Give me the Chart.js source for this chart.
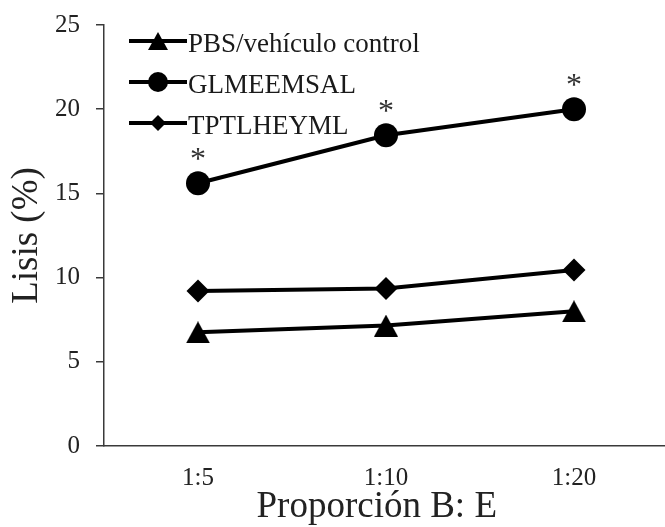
<!DOCTYPE html>
<html>
<head>
<meta charset="utf-8">
<script src="https://cdn.jsdelivr.net/npm/chart.js@4"></script>
<style>
  html, body { margin:0; padding:0; background:#fff; overflow:hidden; }
  #wrap { width:665px; height:527px; overflow:hidden; }
</style>
</head>
<body>
<div id="wrap"><canvas id="chart" width="680" height="527"></canvas></div>
<script>
// values
const categories = ['1:5', '1:10', '1:20'];
const seriesNames = ['PBS/vehículo control', 'GLMEEMSAL', 'TPTLHEYML'];
const pbsValues = [6.75, 7.15, 8.0];
const glmValues = [15.6, 18.45, 20.0];
const tptValues = [9.2, 9.35, 10.45];
const glmMarks = ['*', '*', '*'];
const yTicks = [0, 5, 10, 15, 20, 25];

const FONT = 'Liberation Serif';

// triangle centred on its bounding box (like the original markers)
function triangleCanvas(w, h){
  const cv = document.createElement('canvas');
  cv.width = w; cv.height = h;
  const g = cv.getContext('2d');
  g.fillStyle = '#000';
  g.beginPath();
  g.moveTo(w/2, 0);
  g.lineTo(w, h);
  g.lineTo(0, h);
  g.closePath();
  g.fill();
  return cv;
}
const bigTri = triangleCanvas(24, 22);
const smallTri = triangleCanvas(20, 18);

// legend drawn inside the plot, line + marker + text
const legendPlugin = {
  id: 'lineLegend',
  afterDraw(chart){
    const ctx = chart.ctx;
    const markers = [
      {img: smallTri},
      {style: 'circle', radius: 10},
      {style: 'rectRot', radius: 8}
    ];
    ctx.save();
    chart.data.datasets.forEach((ds, i) => {
      const y = 41 + i*41;
      ctx.strokeStyle = '#000';
      ctx.lineWidth = 4;
      ctx.beginPath();
      ctx.moveTo(129, y);
      ctx.lineTo(187, y);
      ctx.stroke();
      const m = markers[i];
      if(m.img){
        ctx.drawImage(m.img, 158 - m.img.width/2, y - m.img.height/2);
      } else {
        ctx.fillStyle = '#000';
        Chart.helpers.drawPoint(ctx, {pointStyle: m.style, radius: m.radius, rotation: 0, borderWidth: 0}, 158, y);
      }
      ctx.fillStyle = '#1a1a1a';
      ctx.font = '27px "' + FONT + '"';
      ctx.textAlign = 'left';
      ctx.textBaseline = 'middle';
      ctx.fillText(ds.label, 188, y + 4);
    });
    ctx.restore();
  }
};

// significance asterisks above GLMEEMSAL points
const starPlugin = {
  id: 'stars',
  afterDatasetsDraw(chart){
    const ctx = chart.ctx;
    const meta = chart.getDatasetMeta(1);
    ctx.save();
    ctx.fillStyle = '#333';
    ctx.font = '32px "' + FONT + '"';
    ctx.textAlign = 'center';
    ctx.textBaseline = 'alphabetic';
    meta.data.forEach((pt, i) => {
      if(glmMarks[i]) ctx.fillText(glmMarks[i], pt.x, pt.y - 14);
    });
    ctx.restore();
  }
};

const ctx = document.getElementById('chart').getContext('2d');
new Chart(ctx, {
  type: 'line',
  data: {
    labels: categories,
    datasets: [
      {label: seriesNames[0], data: pbsValues, pointStyle: bigTri, pointRadius: 12},
      {label: seriesNames[1], data: glmValues, pointStyle: 'circle', pointRadius: 12},
      {label: seriesNames[2], data: tptValues, pointStyle: 'rectRot', pointRadius: 11.5}
    ]
  },
  options: {
    responsive: false,
    animation: false,
    layout: {padding: {top: 25, right: 6, left: 0, bottom: 0}},
    plugins: {legend: {display: false}, tooltip: {enabled: false}},
    elements: {
      line: {borderColor: '#000', borderWidth: 4, tension: 0},
      point: {backgroundColor: '#000', borderColor: '#000', borderWidth: 0}
    },
    scales: {
      x: {
        offset: true,
        grid: {display: false},
        border: {display: true, color: '#3a3a3a', width: 1.5},
        ticks: {color: '#222', font: {family: FONT, size: 25}, padding: 9},
        title: {display: true, text: 'Proporción B: E\u00a0\u00a0', color: '#222',
                font: {family: FONT, size: 37, lineHeight: 1}, padding: {top: 0, bottom: 1}},
        afterFit: s => { s.height = 81; s.paddingLeft = 0; s.paddingRight = 0; }
      },
      y: {
        min: 0, max: 25,
        afterBuildTicks: s => { s.ticks = yTicks.map(v => ({value: v})); },
        ticks: {color: '#222', font: {family: FONT, size: 25}, padding: 16},
        grid: {drawOnChartArea: false, drawTicks: true, tickLength: 8, color: '#3a3a3a', lineWidth: 1.5},
        border: {display: true, color: '#3a3a3a', width: 1.5},
        title: {display: true, text: 'Lisis (%)', color: '#222',
                font: {family: FONT, size: 37, lineHeight: 1}, padding: {top: 9, bottom: 0}},
        afterFit: s => { s.width = 104; s.paddingTop = 0; s.paddingBottom = 0; }
      }
    }
  },
  plugins: [legendPlugin, starPlugin]
});
</script>
</body>
</html>
